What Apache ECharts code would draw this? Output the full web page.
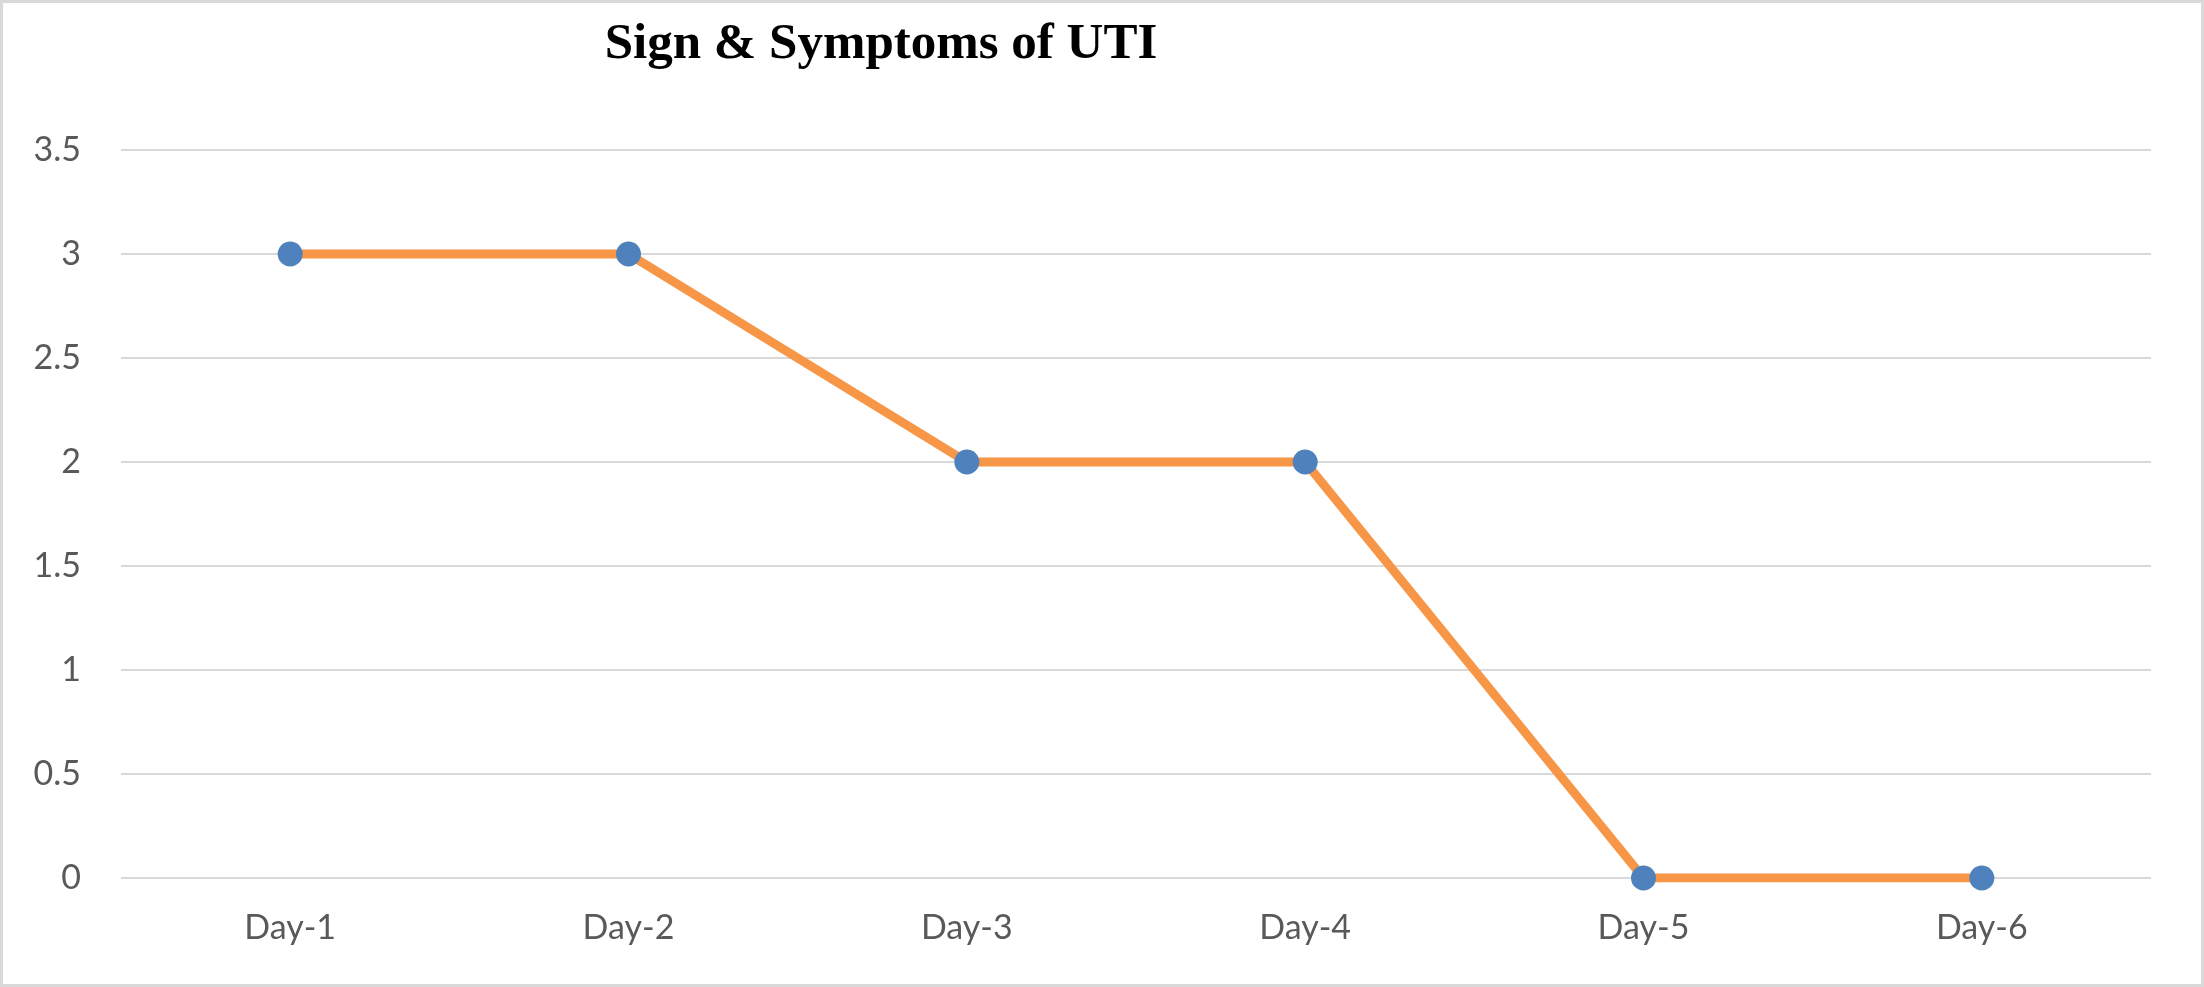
<!DOCTYPE html>
<html>
<head>
<meta charset="utf-8">
<style>
html,body{margin:0;padding:0;background:#fff;}
#chart{width:2204px;height:987px;}
</style>
<script src="https://cdn.jsdelivr.net/npm/echarts@6/dist/echarts.min.js"></script>
</head>
<body>
<div id="chart"></div>
<script>
const titleText = 'Sign & Symptoms of UTI';
const categories = ['Day-1', 'Day-2', 'Day-3', 'Day-4', 'Day-5', 'Day-6'];
const values = [3, 3, 2, 2, 0, 0];
const yTicks = { min: 0, max: 3.5, interval: 0.5 };

const chart = echarts.init(document.getElementById('chart'), null, { renderer: 'canvas' });
chart.setOption({
  backgroundColor: '#ffffff',
  animation: false,
  title: {
    text: titleText,
    left: 876,
    top: 14,
    textAlign: 'center',
    textStyle: {
      fontFamily: '"Liberation Serif", "Times New Roman", serif',
      fontWeight: 'bold',
      fontSize: 51,
      color: '#000000'
    }
  },
  graphic: [{
    type: 'rect',
    shape: { x: 1.5, y: 1.5, width: 2201, height: 984 },
    style: { fill: 'none', stroke: '#d9d9d9', lineWidth: 3 },
    silent: true,
    z: 100
  }],
  grid: { left: 121, right: 53, top: 150, bottom: 109, containLabel: false },
  xAxis: {
    type: 'category',
    data: categories,
    boundaryGap: true,
    axisLine: { show: false },
    axisTick: { show: false },
    axisLabel: {
      margin: 33,
      fontFamily: 'Lato, "Open Sans", sans-serif',
      fontSize: 34,
      color: '#595959'
    }
  },
  yAxis: {
    type: 'value',
    min: yTicks.min,
    max: yTicks.max,
    interval: yTicks.interval,
    axisLine: { show: false },
    axisTick: { show: false },
    axisLabel: {
      margin: 40,
      fontFamily: 'Lato, "Open Sans", sans-serif',
      fontSize: 34,
      color: '#595959'
    },
    splitLine: { lineStyle: { color: '#d9d9d9', width: 2 } }
  },
  series: [{
    type: 'line',
    data: values,
    symbol: 'circle',
    symbolSize: 25,
    lineStyle: { color: '#F79646', width: 9 },
    itemStyle: { color: '#4F81BD' },
    z: 3
  }]
});
</script>
</body>
</html>
